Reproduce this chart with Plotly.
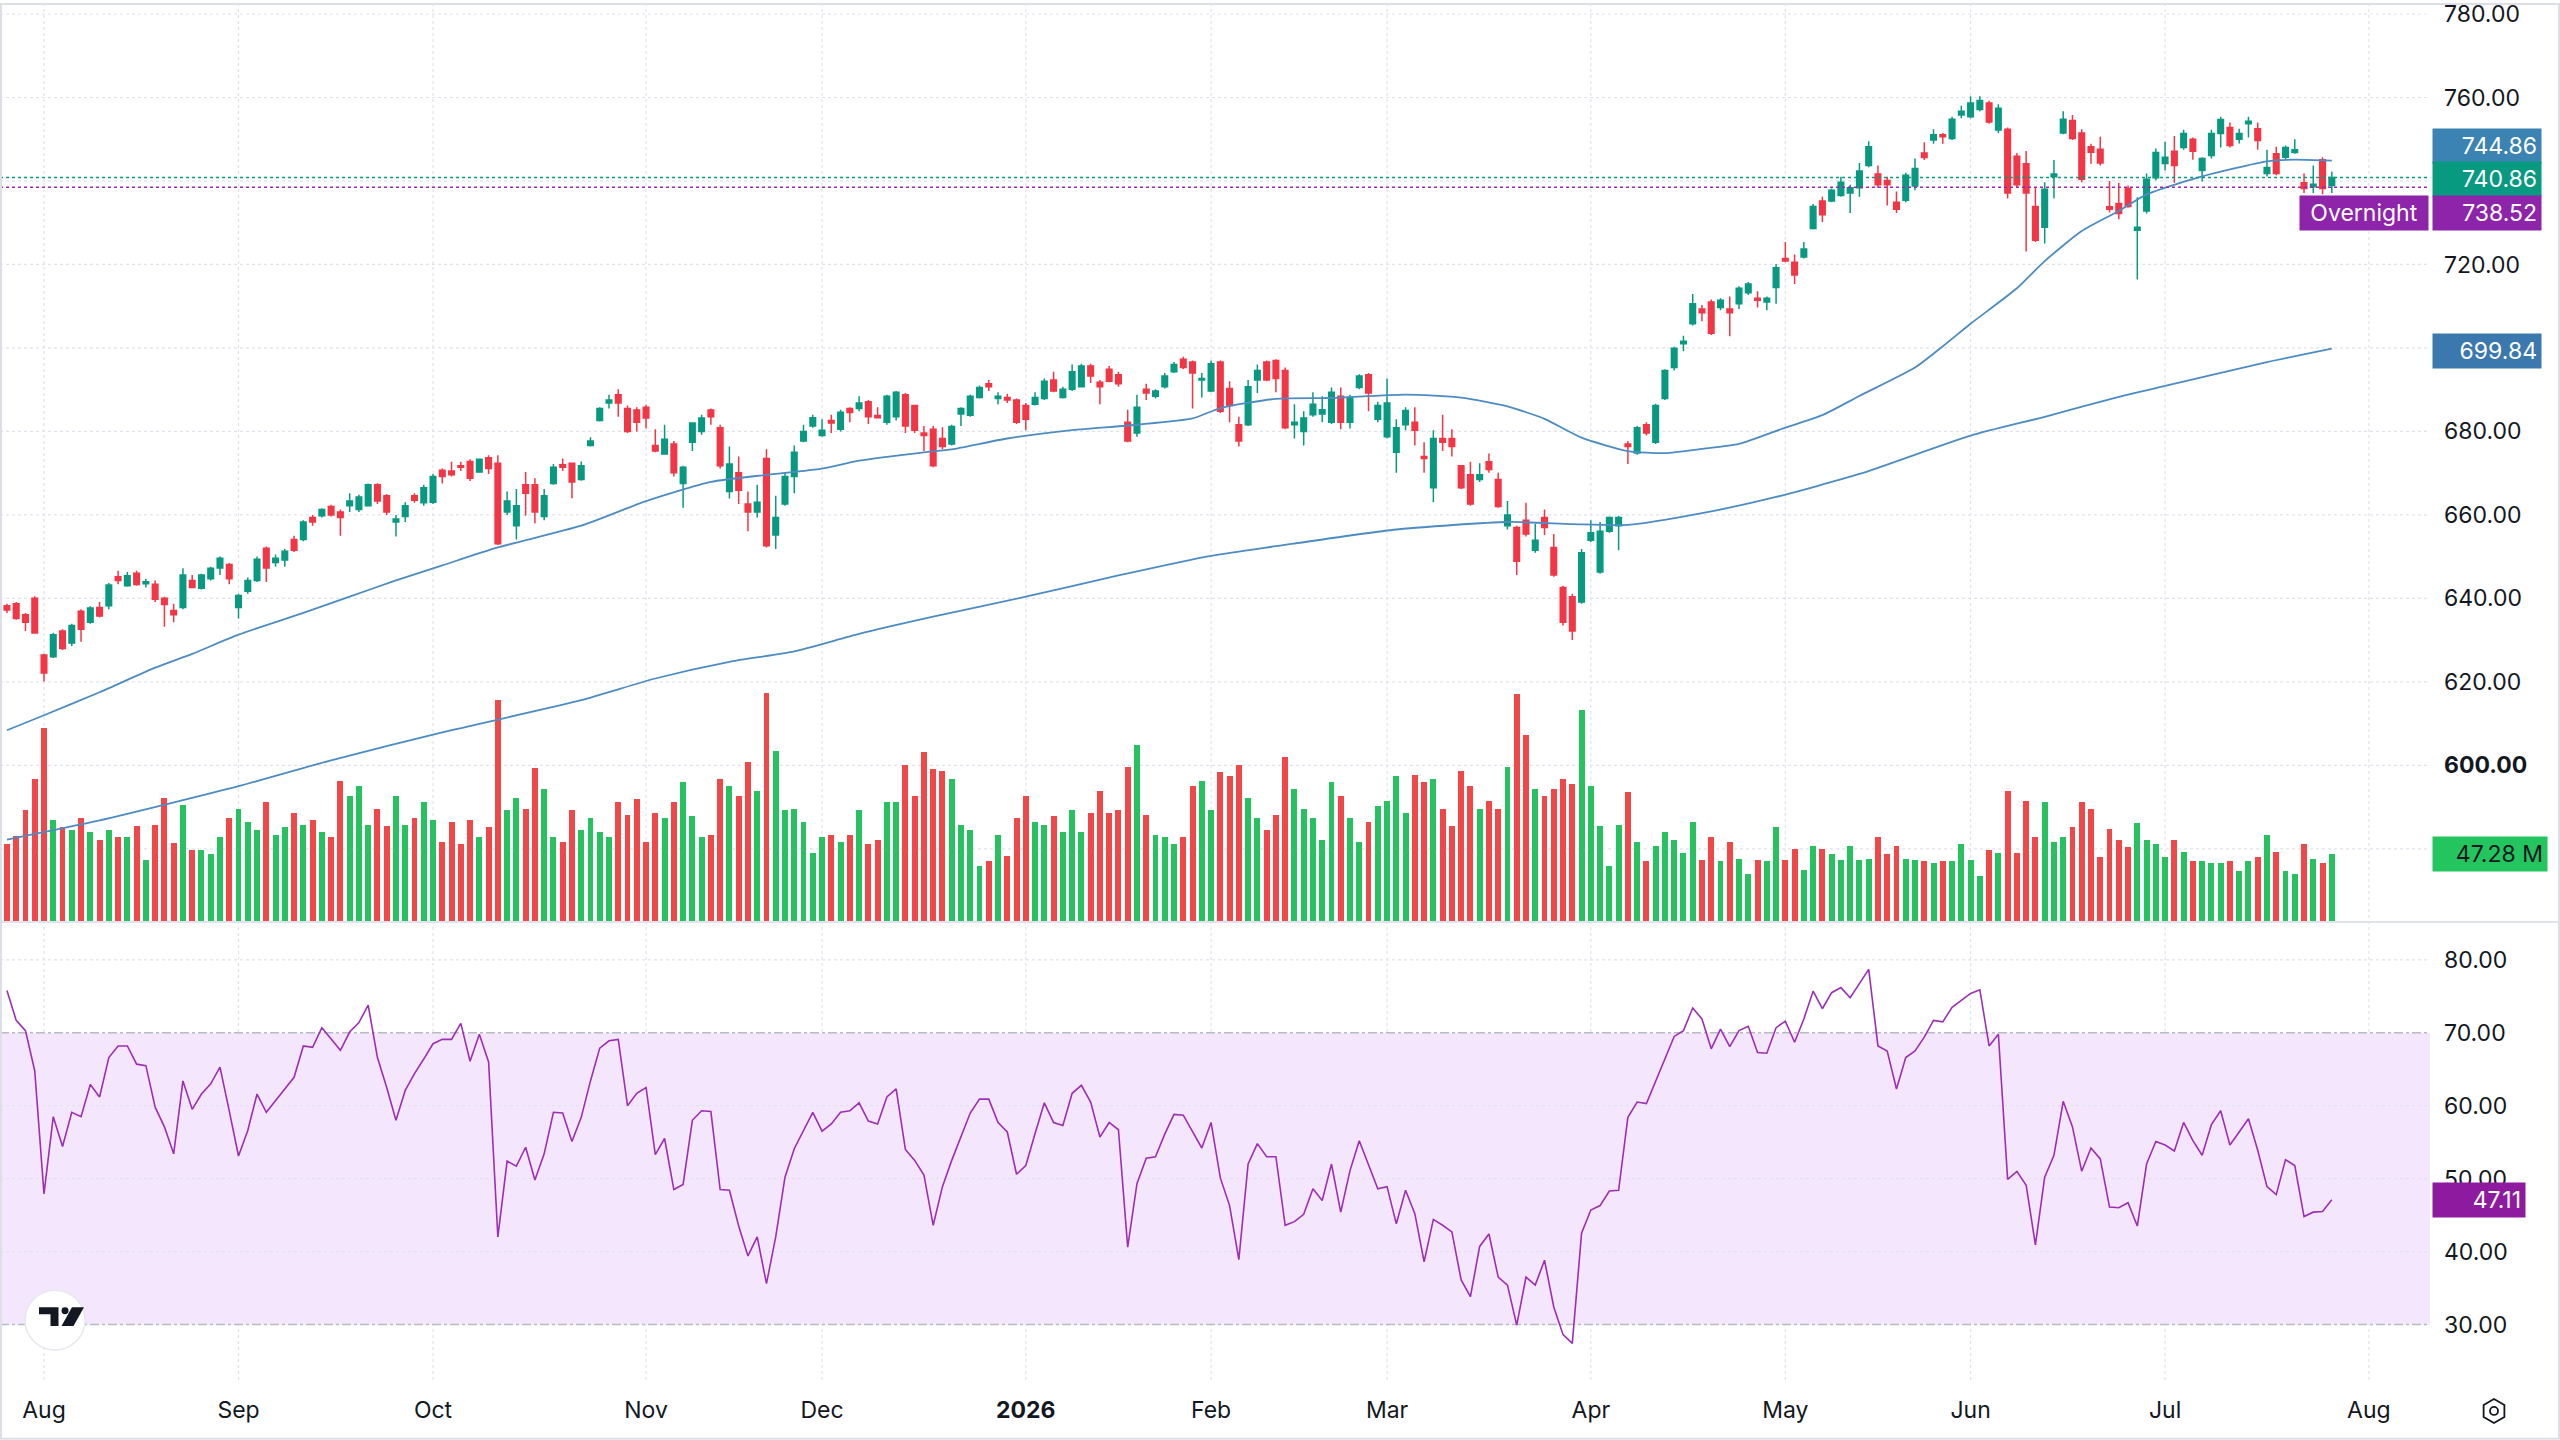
import math
import plotly.graph_objects as go

# ---------------- data ----------------
tick_labels = ["Aug", "Sep", "Oct", "Nov", "Dec", "<b>2026</b>", "Feb", "Mar", "Apr", "May", "Jun", "Jul", "Aug"]
tick_index = [4, 25, 46, 69, 88, 110, 130, 149, 171, 192, 212, 233, 255]

open_prices = [
    638.2, 638.7, 636.1, 640.0, 626.4, 626.0, 632.2, 629.3, 636.9, 634.3,
    637.8, 638.2, 645.2, 643.0, 646.0, 643.5, 643.4, 640.0, 637.1, 637.8,
    644.3, 642.4, 644.7, 647.3, 648.1, 637.8, 641.7, 644.3, 652.0, 648.6,
    649.2, 654.1, 654.1, 659.4, 659.8, 662.0, 660.7, 662.2, 661.3, 662.2,
    667.2, 664.6, 658.3, 659.6, 664.6, 662.9, 663.0, 670.7, 670.5, 671.8,
    672.8, 670.3, 673.7, 672.4, 660.7, 657.4, 667.2, 667.2, 659.6, 667.5,
    672.0, 672.4, 668.5, 676.6, 682.6, 686.8, 688.8, 685.5, 685.1, 685.8,
    676.6, 674.6, 677.0, 667.5, 677.4, 680.0, 685.1, 680.9, 665.6, 670.1,
    662.6, 660.7, 673.5, 655.2, 662.6, 669.2, 677.7, 681.3, 679.0, 682.6,
    680.5, 685.5, 685.5, 687.1, 683.8, 682.2, 683.5, 688.8, 686.2, 679.6,
    680.5, 678.3, 677.0, 684.2, 683.9, 688.1, 691.4, 687.9, 688.1, 687.5,
    686.2, 686.5, 687.9, 692.3, 688.1, 690.1, 690.7, 695.7, 691.8, 694.9,
    693.6, 682.2, 679.6, 690.1, 688.4, 690.7, 694.3, 697.3, 696.6, 692.3,
    689.7, 696.6, 690.3, 681.6, 681.6, 692.3, 696.6, 697.0, 694.6, 681.6,
    680.0, 684.0, 684.2, 682.2, 688.4, 682.2, 690.5, 693.6, 682.9, 678.7,
    675.0, 681.6, 682.2, 674.0, 666.5, 678.3, 678.3, 671.8, 669.6, 668.5,
    672.7, 668.5, 657.4, 657.0, 658.7, 651.5, 659.4, 652.2, 642.6, 640.4,
    639.1, 653.9, 646.3, 656.1, 657.4, 677.0, 674.8, 681.6, 677.4, 687.9,
    695.3, 701.0, 705.8, 709.3, 711.0, 709.7, 709.3, 710.6, 713.2, 711.9,
    711.0, 714.5, 721.4, 720.5, 721.8, 728.6, 735.2, 735.2, 736.5, 737.1,
    738.4, 743.7, 741.7, 740.1, 734.9, 735.4, 738.8, 746.7, 749.8, 751.1,
    750.2, 755.8, 755.4, 757.1, 758.7, 752.2, 752.4, 745.9, 744.1, 733.9,
    728.9, 741.0, 751.5, 754.5, 751.5, 748.2, 747.6, 733.8, 734.6, 738.2,
    728.2, 732.8, 740.8, 744.2, 747.1, 748.0, 750.0, 742.5, 746.1, 751.4,
    752.8, 750.0, 753.7, 752.5, 741.8, 746.5, 745.7, 746.8, 739.6, 738.6,
    745.1, 738.9,
]
high_prices = [
    638.7, 639.1, 636.5, 640.5, 626.7, 631.7, 632.6, 633.9, 637.4, 638.1,
    639.1, 643.7, 646.6, 646.3, 646.6, 644.7, 644.3, 640.4, 638.7, 647.2,
    645.6, 645.9, 647.6, 650.0, 648.5, 641.1, 645.0, 650.0, 652.4, 650.5,
    651.8, 655.0, 658.7, 660.0, 661.6, 662.4, 661.3, 665.2, 664.8, 667.5,
    667.6, 665.0, 660.0, 663.0, 665.2, 667.2, 669.8, 671.1, 672.7, 672.7,
    673.3, 673.5, 674.3, 674.3, 665.6, 666.2, 670.3, 668.8, 666.2, 672.2,
    673.5, 672.4, 672.8, 678.6, 685.8, 688.8, 690.1, 686.2, 685.8, 686.4,
    680.5, 681.6, 677.7, 671.8, 682.2, 684.0, 685.5, 681.6, 676.4, 674.0,
    665.6, 667.2, 675.7, 664.6, 670.1, 676.6, 681.6, 684.0, 682.9, 684.0,
    685.2, 685.8, 688.4, 687.5, 685.8, 688.8, 689.7, 689.2, 686.4, 681.3,
    681.3, 681.0, 681.6, 685.8, 688.8, 691.0, 692.3, 689.4, 689.0, 687.9,
    686.8, 689.4, 692.7, 694.3, 690.7, 696.0, 696.2, 696.2, 692.3, 695.7,
    694.3, 685.2, 688.8, 691.4, 690.1, 694.0, 696.6, 697.9, 697.0, 694.0,
    697.0, 697.0, 692.0, 683.5, 692.3, 696.0, 697.0, 697.3, 695.3, 686.5,
    684.8, 689.4, 688.4, 690.5, 690.5, 688.8, 693.7, 694.0, 687.1, 692.7,
    682.9, 685.8, 685.8, 677.4, 680.3, 684.0, 680.5, 671.8, 672.7, 672.4,
    674.7, 670.1, 663.3, 657.4, 662.9, 657.8, 661.3, 655.4, 643.0, 641.1,
    651.8, 658.7, 658.3, 659.6, 659.8, 677.7, 681.3, 682.2, 686.6, 694.9,
    700.3, 702.9, 712.9, 710.3, 711.6, 711.9, 712.3, 714.8, 715.8, 713.6,
    712.3, 720.1, 725.4, 722.4, 725.4, 734.5, 736.2, 738.2, 741.0, 739.1,
    744.3, 749.5, 743.7, 741.0, 737.5, 742.0, 745.4, 749.3, 752.4, 751.5,
    755.4, 758.0, 760.3, 760.3, 759.2, 758.4, 752.8, 746.7, 747.2, 738.4,
    739.7, 745.0, 756.7, 755.8, 752.4, 748.9, 750.6, 740.0, 739.6, 738.9,
    736.1, 741.8, 747.8, 749.4, 750.8, 752.3, 750.4, 745.7, 752.3, 755.4,
    754.0, 752.5, 755.4, 754.0, 747.5, 748.2, 748.5, 750.0, 741.8, 743.7,
    745.7, 742.2,
]
low_prices = [
    636.5, 634.9, 632.2, 631.5, 620.1, 625.7, 627.6, 628.6, 629.6, 633.9,
    635.4, 637.4, 643.4, 642.8, 643.0, 642.6, 639.1, 633.2, 634.3, 637.4,
    642.4, 642.1, 644.3, 645.6, 643.4, 635.2, 641.1, 643.9, 643.9, 647.6,
    647.6, 651.1, 653.7, 657.4, 659.4, 659.6, 655.0, 660.7, 660.7, 662.0,
    662.6, 660.0, 654.8, 658.3, 662.9, 662.2, 662.6, 667.5, 669.2, 670.5,
    668.1, 670.1, 669.8, 652.8, 660.0, 654.1, 659.8, 658.0, 658.7, 667.2,
    670.5, 664.0, 668.2, 676.4, 682.4, 685.5, 683.5, 679.6, 680.0, 680.7,
    675.0, 674.4, 669.2, 661.7, 675.3, 679.2, 681.6, 671.1, 663.9, 662.6,
    656.1, 659.4, 652.2, 651.8, 662.2, 665.2, 677.4, 680.9, 678.7, 679.6,
    680.0, 682.2, 684.8, 681.8, 683.2, 681.6, 682.6, 679.6, 679.6, 675.3,
    671.4, 675.7, 676.6, 681.3, 683.5, 687.9, 689.7, 686.5, 686.8, 681.8,
    680.3, 686.2, 687.5, 689.4, 687.9, 689.7, 690.5, 691.6, 686.5, 691.8,
    690.7, 677.4, 678.7, 687.5, 687.9, 690.3, 694.0, 694.9, 685.5, 688.1,
    689.4, 684.4, 682.2, 676.4, 681.3, 689.2, 692.0, 689.4, 680.5, 678.3,
    676.6, 683.5, 682.2, 681.8, 680.5, 680.7, 690.1, 684.8, 682.2, 678.3,
    670.1, 680.3, 676.6, 670.1, 663.0, 675.3, 674.0, 666.2, 662.2, 667.9,
    670.1, 661.7, 656.5, 645.6, 654.8, 650.9, 655.2, 645.2, 633.5, 630.0,
    638.7, 653.5, 645.9, 655.7, 651.5, 672.2, 674.4, 679.0, 677.0, 687.5,
    694.6, 699.2, 705.4, 706.4, 703.1, 709.0, 702.8, 709.3, 712.7, 709.7,
    709.0, 710.6, 720.5, 715.3, 721.4, 728.4, 730.2, 734.9, 736.2, 732.3,
    736.2, 743.3, 738.4, 734.1, 732.3, 734.9, 737.8, 745.0, 748.9, 748.9,
    749.8, 755.0, 755.0, 756.7, 753.7, 751.5, 735.8, 738.4, 723.1, 725.4,
    725.0, 735.8, 751.2, 749.8, 739.7, 744.1, 743.7, 732.5, 730.8, 733.6,
    716.4, 732.2, 740.2, 742.5, 739.6, 747.5, 745.1, 739.9, 745.4, 748.0,
    748.0, 749.0, 750.4, 747.5, 741.1, 741.4, 745.1, 746.5, 737.1, 737.1,
    736.8, 737.1,
]
close_prices = [
    637.2, 635.2, 634.3, 631.7, 622.1, 631.3, 628.0, 633.5, 632.6, 637.7,
    635.8, 643.2, 644.3, 645.4, 643.3, 644.0, 639.8, 638.5, 636.1, 645.6,
    642.6, 645.6, 647.2, 649.6, 644.7, 640.7, 644.3, 649.4, 647.3, 649.6,
    651.3, 651.5, 658.3, 658.3, 661.3, 660.0, 659.4, 663.3, 664.3, 667.2,
    663.3, 660.7, 659.0, 662.2, 663.5, 666.5, 669.2, 669.2, 669.6, 671.4,
    668.8, 673.3, 671.1, 653.1, 663.3, 662.2, 665.2, 660.7, 664.6, 671.4,
    671.4, 667.9, 671.8, 677.7, 685.5, 687.5, 686.8, 680.0, 682.2, 683.2,
    675.3, 678.1, 670.1, 671.4, 682.0, 683.2, 683.5, 671.8, 672.2, 665.9,
    660.7, 663.0, 652.6, 659.4, 669.2, 675.0, 680.0, 683.3, 680.3, 682.0,
    684.6, 684.5, 686.8, 683.5, 683.3, 688.4, 689.4, 681.3, 680.3, 679.0,
    671.8, 676.4, 681.2, 685.5, 688.4, 690.5, 690.7, 688.4, 687.5, 682.2,
    682.9, 688.1, 692.0, 689.7, 690.1, 694.3, 695.7, 693.3, 690.7, 692.0,
    691.4, 677.7, 685.8, 689.2, 689.7, 693.3, 696.0, 695.3, 694.0, 692.7,
    696.2, 684.8, 686.2, 677.7, 690.7, 694.6, 692.3, 692.7, 680.9, 682.2,
    683.2, 686.5, 685.2, 689.4, 682.2, 688.1, 693.3, 689.2, 686.2, 686.8,
    680.9, 685.0, 680.3, 673.5, 678.3, 677.4, 676.4, 666.5, 662.6, 669.6,
    670.9, 662.0, 660.0, 648.9, 655.4, 653.9, 657.0, 645.6, 634.3, 632.2,
    650.9, 655.7, 656.1, 659.4, 659.4, 676.4, 680.9, 679.6, 686.2, 694.6,
    699.9, 701.6, 710.6, 708.4, 703.5, 711.4, 708.4, 714.3, 715.3, 711.4,
    711.9, 719.2, 720.8, 717.5, 723.7, 733.9, 731.9, 737.8, 739.7, 738.4,
    742.4, 748.2, 739.1, 739.1, 733.2, 741.4, 743.0, 745.6, 751.1, 750.6,
    754.8, 756.7, 758.7, 759.3, 754.1, 757.4, 737.1, 739.1, 737.1, 725.8,
    738.0, 741.7, 754.8, 750.2, 740.4, 746.9, 744.3, 733.2, 732.2, 733.9,
    728.9, 740.4, 746.8, 745.7, 743.7, 751.4, 747.1, 745.4, 751.4, 754.7,
    748.5, 751.4, 754.3, 749.7, 743.2, 741.8, 748.0, 747.5, 738.2, 739.2,
    738.2, 740.86,
]
volume_millions = [
    54, 60, 78, 100, 136, 71, 66, 64, 73, 63,
    57, 64, 59, 59, 67, 43, 68, 87, 55, 82,
    50, 50, 47, 59, 73, 79, 70, 64, 84, 61,
    66, 76, 68, 71, 63, 59, 99, 88, 95, 68,
    79, 67, 88, 68, 73, 84, 71, 56, 70, 54,
    71, 59, 66, 156, 78, 87, 79, 108, 93, 59,
    56, 78, 64, 73, 63, 59, 84, 75, 86, 56,
    76, 73, 84, 98, 74, 59, 61, 100, 95, 88,
    112, 92, 161, 120, 78, 79, 70, 48, 59, 61,
    56, 61, 78, 54, 57, 84, 84, 110, 88, 119,
    107, 106, 100, 68, 64, 39, 42, 61, 46, 73,
    88, 70, 68, 74, 63, 78, 63, 76, 92, 76,
    78, 109, 124, 75, 61, 59, 54, 59, 95, 99,
    78, 105, 102, 110, 87, 73, 64, 75, 116, 93,
    79, 73, 57, 98, 88, 73, 56, 70, 81, 85,
    102, 76, 103, 98, 100, 79, 67, 106, 95, 79,
    85, 79, 109, 160, 131, 93, 88, 93, 100, 97,
    149, 95, 67, 39, 68, 91, 56, 42, 53, 63,
    57, 48, 70, 43, 59, 42, 56, 44, 33, 43,
    42, 66, 43, 51, 36, 53, 51, 47, 43, 53,
    43, 44, 59, 47, 53, 44, 43, 42, 41, 42,
    42, 54, 43, 32, 50, 48, 92, 48, 85, 59,
    84, 56, 59, 66, 84, 79, 45, 65, 57, 52,
    69, 57, 54, 45, 57, 49, 42, 42, 41, 41,
    42, 35, 42, 45, 61, 49, 35, 33, 54, 44,
    41, 47.28,
]
rsi_values = [
    75.8, 71.7, 70.3, 64.8, 47.9, 58.5, 54.4, 59.1, 58.5, 62.9,
    61.2, 66.6, 68.2, 68.2, 65.7, 65.5, 59.8, 57.1, 53.4, 63.4,
    59.5, 61.6, 63.0, 65.3, 59.3, 53.1, 56.6, 61.6, 59.1, 60.7,
    62.3, 63.9, 68.2, 68.0, 70.7, 69.1, 67.6, 70.1, 71.4, 73.8,
    66.6, 62.5, 58.0, 62.1, 64.4, 66.4, 68.5, 69.1, 69.1, 71.3,
    66.1, 69.8, 66.0, 42.0, 52.4, 51.7, 54.3, 49.8, 53.4, 59.1,
    59.0, 55.1, 58.4, 63.4, 67.9, 68.9, 69.1, 60.0, 61.7, 62.5,
    53.3, 55.5, 48.5, 49.2, 58.0, 59.3, 59.2, 48.5, 48.4, 43.5,
    39.4, 42.0, 35.6, 42.0, 50.2, 54.1, 56.7, 59.1, 56.5, 57.5,
    59.1, 59.3, 60.4, 57.9, 57.5, 61.2, 62.3, 54.0, 52.5, 50.5,
    43.6, 48.9, 52.5, 55.7, 59.0, 60.9, 60.9, 57.7, 56.4, 50.6,
    51.8, 56.2, 60.4, 57.7, 57.3, 61.7, 62.8, 60.5, 55.7, 57.7,
    56.7, 40.6, 49.3, 52.8, 53.0, 56.1, 58.8, 58.7, 56.4, 54.2,
    57.7, 50.1, 46.3, 38.9, 52.0, 54.8, 53.0, 53.0, 43.6, 44.1,
    45.1, 48.6, 47.0, 52.0, 45.4, 51.1, 55.2, 52.0, 48.6, 48.9,
    43.8, 48.4, 45.2, 38.6, 44.4, 43.6, 42.7, 36.1, 33.8, 40.7,
    42.4, 36.5, 35.4, 29.9, 36.5, 35.4, 38.8, 32.4, 28.6, 27.4,
    42.5, 45.7, 46.3, 48.3, 48.4, 58.4, 60.5, 60.3, 63.4, 66.6,
    69.5, 70.3, 73.4, 71.9, 67.8, 70.5, 68.1, 70.3, 70.9, 67.3,
    67.2, 70.7, 71.6, 68.7, 71.9, 75.7, 73.3, 75.5, 76.2, 74.8,
    76.7, 78.7, 68.2, 67.5, 62.3, 66.6, 67.5, 69.4, 71.7, 71.5,
    73.5, 74.4, 75.4, 75.9, 68.2, 69.8, 49.9, 51.0, 49.1, 40.9,
    50.2, 53.2, 60.6, 57.1, 51.0, 54.2, 52.7, 46.1, 46.0, 46.7,
    43.5, 52.0, 55.1, 54.6, 53.8, 57.7, 55.2, 53.2, 57.4, 59.3,
    54.6, 56.4, 58.2, 53.9, 48.9, 47.8, 52.6, 51.8, 44.8, 45.4,
    45.5, 47.11,
]
# moving averages read at sampled bars (bar index, value)
ma50_index = [0, 4, 10, 16, 20, 25, 32, 37, 42, 47, 53, 62, 69, 76, 82, 88, 92, 99, 102, 108,
              115, 122, 128, 131, 137, 143, 151, 157, 162, 166, 170, 175, 179, 183, 187, 192, 196,
              200, 206, 209, 212, 217, 220, 224, 228, 231, 237, 244, 247, 251]
ma50_values = [608.4, 612.0, 617.5, 623.4, 626.7, 631.3, 636.5, 640.4, 644.3, 647.9, 652.2, 657.4,
               663.3, 667.9, 669.6, 671.1, 673.0, 675.0, 675.7, 678.3, 680.3, 681.6, 683.1, 685.6,
               687.8, 688.0, 688.8, 688.1, 686.0, 683.0, 678.5, 675.3, 674.8, 675.8, 677.0, 680.9,
               683.9, 688.5, 695.3, 700.4, 705.8, 714.3, 720.8, 728.0, 732.8, 736.8, 741.1, 744.7,
               745.1, 744.86]
ma200_index = [0, 10, 25, 35, 47, 62, 70, 78, 85, 92, 100, 110, 120, 130, 137, 150, 162, 169, 175,
               183, 191, 200, 212, 220, 228, 233, 244, 251]
ma200_values = [582.2, 586.8, 595.0, 601.2, 607.9, 615.6, 620.8, 624.8, 627.3, 631.5, 635.6, 640.4,
                645.5, 650.2, 652.5, 656.5, 658.3, 657.8, 657.6, 660.4, 664.3, 669.8, 679.0, 683.5,
                688.3, 690.9, 696.6, 699.84]

price_ticks = [580, 600, 620, 640, 660, 680, 700, 720, 740, 760, 780]
price_ticks_hidden = [580, 700, 740]  # covered by value boxes in the reference
rsi_ticks = [30, 40, 50, 60, 70, 80]
overnight_price = 738.52
last_close = close_prices[-1]
last_volume = volume_millions[-1]
last_rsi = rsi_values[-1]
last_ma50 = ma50_values[-1]
last_ma200 = ma200_values[-1]

# ---------------- style / layout helpers ----------------
W, H = 2560, 1440
ML, MR, MT, MB = 0, 130, 0, 60
PW, PH = W - ML - MR, H - MT - MB
FONT = "Inter"
TXT = "#131722"
GRID = "#e0e3eb"
UP, DOWN = "#089981", "#f23645"
VUP, VDOWN = "#26c25f", "#f04848"
MA_COLOR = "#4d8cc2"
RSI_COLOR = "#9c2fb5"


def pxx(x):
    return x / PW


def pxy(y):
    return (PH - y) / PH


bars = list(range(len(close_prices)))
vol_colors = [VUP if c >= o else VDOWN for o, c in zip(open_prices, close_prices)]

fig = go.Figure()

fig.add_trace(go.Bar(
    x=bars, y=volume_millions, marker=dict(color=vol_colors, line=dict(width=0)),
    width=0.64, xaxis="x", yaxis="y", hoverinfo="skip", showlegend=False))

fig.add_trace(go.Scatter(
    x=ma200_index, y=ma200_values, mode="lines", xaxis="x", yaxis="y2",
    line=dict(color=MA_COLOR, width=1.8, shape="spline", smoothing=0.6),
    hoverinfo="skip", showlegend=False))
fig.add_trace(go.Scatter(
    x=ma50_index, y=ma50_values, mode="lines", xaxis="x", yaxis="y2",
    line=dict(color=MA_COLOR, width=1.8, shape="spline", smoothing=0.6),
    hoverinfo="skip", showlegend=False))

fig.add_trace(go.Candlestick(
    x=bars, open=open_prices, high=high_prices, low=low_prices, close=close_prices,
    xaxis="x", yaxis="y2",
    increasing=dict(line=dict(color=UP, width=1.5), fillcolor=UP),
    decreasing=dict(line=dict(color=DOWN, width=1.5), fillcolor=DOWN),
    whiskerwidth=0, hoverinfo="skip", showlegend=False))

fig.add_trace(go.Scatter(
    x=bars, y=rsi_values, mode="lines", xaxis="x2", yaxis="y3",
    line=dict(color=RSI_COLOR, width=1.6), hoverinfo="skip", showlegend=False))

shapes = []
# vertical month grid lines (both panes)
for t in tick_index:
    shapes.append(dict(type="line", xref="x", yref="paper", x0=t, x1=t, y0=0, y1=1,
                       line=dict(color=GRID, width=1.2, dash="dot"), layer="below"))
# price grid
for p in price_ticks:
    shapes.append(dict(type="line", xref="paper", yref="y2", x0=0, x1=1, y0=p, y1=p,
                       line=dict(color=GRID, width=1.2, dash="dot"), layer="below"))
# RSI band and levels
shapes.append(dict(type="rect", xref="paper", yref="y3", x0=0, x1=1, y0=30, y1=70,
                   fillcolor="#f4e7fd", line=dict(width=0), layer="below"))
for lv in [40, 50, 60, 80]:
    shapes.append(dict(type="line", xref="paper", yref="y3", x0=0, x1=1, y0=lv, y1=lv,
                       line=dict(color=GRID, width=1.2, dash="dot"), layer="below"))
for lv in [30, 70]:
    shapes.append(dict(type="line", xref="paper", yref="y3", x0=0, x1=1, y0=lv, y1=lv,
                       line=dict(color="#b8bbc4", width=1.5, dash="dashdot"), layer="below"))
# last price / overnight dotted lines
shapes.append(dict(type="line", xref="paper", yref="y2", x0=0, x1=1, y0=last_close, y1=last_close,
                   line=dict(color=UP, width=1.5, dash="dot")))
shapes.append(dict(type="line", xref="paper", yref="y2", x0=0, x1=1, y0=overnight_price, y1=overnight_price,
                   line=dict(color="#9c27b0", width=1.5, dash="dot")))
# pane separator
shapes.append(dict(type="line", xref="paper", yref="paper", x0=0, x1=pxx(W), y0=pxy(921), y1=pxy(921),
                   line=dict(color=GRID, width=2)))
# frame
shapes.append(dict(type="rect", xref="paper", yref="paper", x0=pxx(1), x1=pxx(W - 1),
                   y0=pxy(H - 1), y1=pxy(1), line=dict(color="#dcdfe6", width=2)))
# TradingView logo badge
cx, cy, r = 55, 1320, 30
shapes.append(dict(type="circle", xref="paper", yref="paper", x0=pxx(cx - r), x1=pxx(cx + r),
                   y0=pxy(cy + r), y1=pxy(cy - r), fillcolor="white", line=dict(color="#e6e8ee", width=1.5)))


def path(points):
    return "M " + " L ".join(f"{pxx(a):.6f},{pxy(b):.6f}" for a, b in points) + " Z"


shapes.append(dict(type="path", xref="paper", yref="paper",
                   path=path([(39, 1307), (58.5, 1307), (58.5, 1326), (50.5, 1326), (50.5, 1314), (39, 1314)]),
                   fillcolor="#131722", line=dict(width=0)))
shapes.append(dict(type="circle", xref="paper", yref="paper", x0=pxx(61.5), x1=pxx(68.5),
                   y0=pxy(1314), y1=pxy(1307), fillcolor="#131722", line=dict(width=0)))
shapes.append(dict(type="path", xref="paper", yref="paper",
                   path=path([(72, 1307), (84, 1307), (73.5, 1326), (61.5, 1326)]),
                   fillcolor="#131722", line=dict(width=0)))
# settings icon (hexagon with circle)
hx, hy, hr = 2494, 1411, 12
hexpts = [(hx + hr * math.cos(math.radians(90 + 60 * k)), hy - hr * math.sin(math.radians(90 + 60 * k)))
          for k in range(6)]
shapes.append(dict(type="path", xref="paper", yref="paper", path=path(hexpts),
                   line=dict(color="#131722", width=1.8)))
shapes.append(dict(type="circle", xref="paper", yref="paper", x0=pxx(hx - 4), x1=pxx(hx + 4),
                   y0=pxy(hy + 4), y1=pxy(hy - 4), line=dict(color="#131722", width=1.8)))

annotations = []


def price_box(y, yref, text, bg, fg="white", yshift=0, width=100):
    annotations.append(dict(
        xref="paper", x=1, xanchor="left", xshift=2, yref=yref, y=y, yanchor="middle", yshift=yshift,
        text=text, showarrow=False, bgcolor=bg, borderpad=4, width=width, height=26, align="right",
        font=dict(family=FONT, size=23, color=fg)))


price_box(last_ma50, "y2", f"{last_ma50:.2f}", "#3b83b2", yshift=15)
price_box(last_close, "y2", f"{last_close:.2f}", UP, yshift=-2)
price_box(overnight_price, "y2", f"{overnight_price:.2f}", "#8e24aa", yshift=-26)
price_box(last_ma200, "y2", f"{last_ma200:.2f}", "#3a78ad", yshift=-2)
price_box(last_volume, "y", f"{last_volume:.2f} M", "#22c55e", fg=TXT, width=106)
price_box(last_rsi, "y3", f"{last_rsi:.2f}", "#8e1a9f", width=84)
annotations.append(dict(
    xref="paper", x=1, xanchor="right", xshift=-1, yref="y2", y=overnight_price, yanchor="middle",
    yshift=-26, text="Overnight", showarrow=False, bgcolor="#8e24aa", borderpad=4, width=120, height=26,
    align="center", font=dict(family=FONT, size=23, color="white")))

price_text = []
for p in price_ticks:
    if p in price_ticks_hidden:
        price_text.append("")
    elif p == 600:
        price_text.append(f"<b>{p:.2f}</b>")
    else:
        price_text.append(f"{p:.2f}")

fig.update_layout(
    width=W, height=H, margin=dict(l=ML, r=MR, t=MT, b=MB),
    paper_bgcolor="white", plot_bgcolor="white", showlegend=False,
    font=dict(family=FONT, size=23, color=TXT),
    boxgap=0.4, boxgroupgap=0, bargap=0,
    xaxis=dict(domain=[0, 1], anchor="y", range=[-0.75, 261.6], showticklabels=False,
               showgrid=False, zeroline=False, showline=False, rangeslider=dict(visible=False)),
    xaxis2=dict(domain=[0, 1], anchor="y3", matches="x", range=[-0.75, 261.6],
                tickmode="array", tickvals=tick_index, ticktext=tick_labels, ticks="",
                showgrid=False, zeroline=False, showline=False, ticklabelstandoff=14,
                tickfont=dict(family=FONT, size=23, color=TXT)),
    yaxis=dict(domain=[pxy(920), 1], range=[0, 920 / 1.42], visible=False, fixedrange=True),
    yaxis2=dict(overlaying="y", anchor="x", side="right", range=[562.70, 782.64],
                tickmode="array", tickvals=price_ticks, ticktext=price_text, ticks="",
                showgrid=False, zeroline=False, showline=False, ticklabelstandoff=13,
                ticklabeloverflow="allow",
                tickfont=dict(family=FONT, size=23, color=TXT)),
    yaxis3=dict(domain=[0, pxy(922)], anchor="x2", side="right", range=[22.38, 85.06],
                tickmode="array", tickvals=rsi_ticks, ticktext=[f"{v:.2f}" for v in rsi_ticks],
                ticks="", showgrid=False, zeroline=False, showline=False, ticklabelstandoff=13,
                tickfont=dict(family=FONT, size=23, color=TXT)),
    shapes=shapes, annotations=annotations,
)

fig.write_html("out.html")
